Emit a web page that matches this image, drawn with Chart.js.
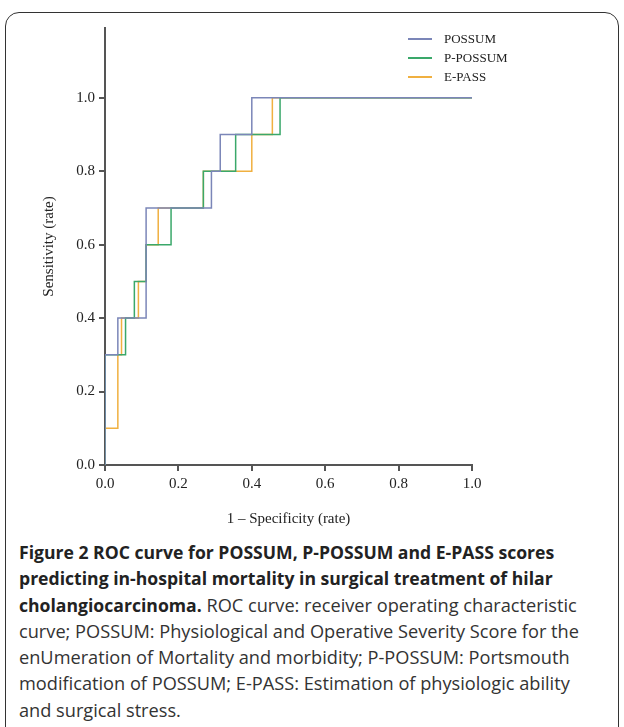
<!DOCTYPE html>
<html>
<head>
<meta charset="utf-8">
<script src="https://cdn.jsdelivr.net/npm/chart.js@4.4.1/dist/chart.umd.min.js"></script>
<style>
  body { margin: 0; background: #fff; overflow: hidden; }
  #card { position: absolute; left: 5px; top: 12px; width: 612px; height: 740px; border: 1.5px solid #333; border-radius: 14px; }
  #wrap { position: absolute; left: 0; top: 0; width: 624px; height: 530px; }
  #legend { position: absolute; left: 408px; top: 29px; font-family: "Liberation Serif", serif; font-size: 13px; color: #222; }
  #legend div { height: 19px; display: flex; align-items: center; }
  #legend span.l { display: inline-block; width: 24px; height: 2px; margin-right: 12px; }
  #caption { position: absolute; left: 19px; top: 539px; width: 582px; font-family: "Open Sans", sans-serif; font-size: 18.2px; line-height: 26.3px; color: #333; }
  #caption b { color: #222; font-size: 17.6px; }
</style>
</head>
<body>
<div id="card"></div>
<div id="wrap"><canvas id="roc"></canvas></div>
<div id="legend">
  <div><span class="l" style="background:#7b86b8"></span>POSSUM</div>
  <div><span class="l" style="background:#3aa86a"></span>P-POSSUM</div>
  <div><span class="l" style="background:#f0b040"></span>E-PASS</div>
</div>
<div id="caption"><b>Figure 2 ROC curve for POSSUM, P-POSSUM and E-PASS scores predicting in-hospital mortality in surgical treatment of hilar cholangiocarcinoma.</b> ROC curve: receiver operating characteristic curve; POSSUM: Physiological and Operative Severity Score for the enUmeration of Mortality and morbidity; P-POSSUM: Portsmouth modification of POSSUM; E-PASS: Estimation of physiologic ability and surgical stress.</div>
<script>
// step points: x where the curve jumps, y after the jump
const possumX  = [0, 0, 0.035, 0.112, 0.29, 0.314, 0.40, 1.0];
const possumY  = [0, 0.3, 0.4, 0.7, 0.8, 0.9, 1.0, 1.0];
const ppossumX = [0, 0, 0.056, 0.08, 0.112, 0.18, 0.268, 0.356, 0.477, 1.0];
const ppossumY = [0, 0.3, 0.4, 0.5, 0.6, 0.7, 0.8, 0.9, 1.0, 1.0];
const epassX   = [0, 0, 0.035, 0.045, 0.091, 0.112, 0.145, 0.268, 0.40, 0.456, 1.0];
const epassY   = [0, 0.1, 0.3, 0.4, 0.5, 0.6, 0.7, 0.8, 0.9, 1.0, 1.0];
const tickValues = [0, 0.2, 0.4, 0.6, 0.8, 1.0];

const pts = (xs, ys) => xs.map((x, i) => ({ x: x, y: ys[i] }));
const serif = { family: 'Liberation Serif', size: 15 };

function line(label, xs, ys, color) {
    return { label: label, data: pts(xs, ys), borderColor: color, borderWidth: 1.5,
             pointRadius: 0, stepped: 'before', fill: false };
}

new Chart(document.getElementById('roc'), {
    type: 'line',
    data: { datasets: [
        line('POSSUM', possumX, possumY, '#7b86b8'),
        line('P-POSSUM', ppossumX, ppossumY, '#3aa86a'),
        line('E-PASS', epassX, epassY, '#f0b040')
    ] },
    options: {
        responsive: true, maintainAspectRatio: false, animation: false,
        layout: { padding: { top: 28, right: 152, left: 40, bottom: 0 } },
        plugins: { legend: { display: false }, tooltip: { enabled: false } },
        scales: {
            x: {
                type: 'linear', min: 0, max: 1,
                afterBuildTicks: (s) => { s.ticks = tickValues.map(v => ({ value: v })); },
                afterFit: (s) => { s.height = 65; },
                ticks: { color: '#222', font: serif, padding: 4, callback: v => v.toFixed(1) },
                grid: { drawOnChartArea: false, tickLength: 6, color: '#555', lineWidth: 2 },
                border: { color: '#555', width: 2 },
                title: { display: true, text: '1 \u2013 Specificity (rate)', color: '#222', font: serif, padding: 2 }
            },
            y: {
                type: 'linear', min: 0, max: 1.19,
                afterBuildTicks: (s) => { s.ticks = tickValues.map(v => ({ value: v })); },
                afterFit: (s) => { s.width = 65; },
                ticks: { color: '#222', font: serif, padding: 4, callback: v => v.toFixed(1) },
                grid: { drawOnChartArea: false, tickLength: 6, color: '#555', lineWidth: 2 },
                border: { color: '#555', width: 2 },
                title: { display: true, text: 'Sensitivity (rate)', color: '#222', font: serif, padding: 0 }
            }
        }
    }
});
</script>
</body>
</html>
